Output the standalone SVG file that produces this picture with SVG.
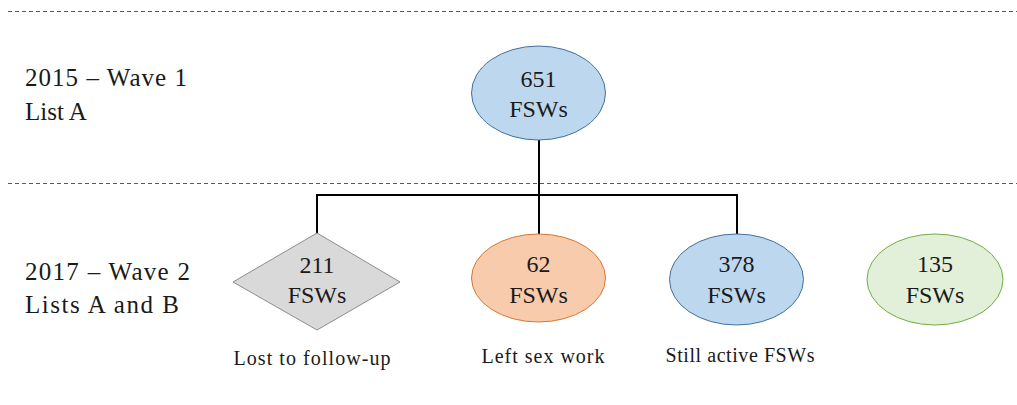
<svg xmlns="http://www.w3.org/2000/svg" width="1017" height="405" viewBox="0 0 1017 405">
  <style>
    .divider { stroke: #595959; stroke-width: 1; stroke-dasharray: 4 3; fill: none; }
    .link { stroke: #000; stroke-width: 2; fill: none; }
    .blue { fill: #BDD7EE; stroke: #41719C; stroke-width: 1; }
    .orange { fill: #F8CBAD; stroke: #D9772E; stroke-width: 1; }
    .green { fill: #E2F0D9; stroke: #70AD47; stroke-width: 1; }
    .grey { fill: #D9D9D9; stroke: #8C8C8C; stroke-width: 1; }
  </style>

  <!-- wave separators -->
  <line class="divider" x1="8" y1="11.5" x2="1017" y2="11.5"/>
  <line class="divider" x1="8" y1="183.5" x2="1017" y2="183.5"/>

  <!-- row headings -->
  <g id="wave1-label" style="font-family: 'Liberation Serif', serif; font-size: 25px" fill="#1a1a1a">
    <text x="25" y="86" textLength="162" lengthAdjust="spacing">2015 – Wave 1</text>
    <text x="25" y="120">List A</text>
  </g>
  <g id="wave2-label" style="font-family: 'Liberation Serif', serif; font-size: 25px" fill="#1a1a1a">
    <text x="25" y="280" textLength="165" lengthAdjust="spacing">2017 – Wave 2</text>
    <text x="25" y="313" textLength="154" lengthAdjust="spacing">Lists A and B</text>
  </g>

  <!-- connectors -->
  <g id="connectors">
    <polyline class="link" points="539,140 539,195"/>
    <polyline class="link" points="317,234 317,195 737,195 737,234"/>
    <line class="link" x1="539" y1="195" x2="539" y2="234"/>
  </g>

  <g id="node-651" style="font-family: 'Liberation Serif', serif; font-size: 24px" fill="#1a1a1a" text-anchor="middle">
    <ellipse class="blue" cx="538.5" cy="93" rx="67" ry="47"/>
    <text x="538.5" y="87">651</text>
    <text x="538.5" y="117">FSWs</text>
  </g>

  <g id="node-211" style="font-family: 'Liberation Serif', serif; font-size: 24px" fill="#1a1a1a" text-anchor="middle">
    <polygon class="grey" points="317,233 400,282 317,330 233,282"/>
    <text x="317" y="273">211</text>
    <text x="317" y="303">FSWs</text>
    <text x="312" y="365" font-size="20" textLength="157" lengthAdjust="spacing">Lost to follow-up</text>
  </g>

  <g id="node-62" style="font-family: 'Liberation Serif', serif; font-size: 24px" fill="#1a1a1a" text-anchor="middle">
    <ellipse class="orange" cx="538.5" cy="278" rx="67" ry="44"/>
    <text x="538.5" y="272">62</text>
    <text x="538.5" y="303">FSWs</text>
    <text x="543" y="363" font-size="20" textLength="123" lengthAdjust="spacing">Left sex work</text>
  </g>

  <g id="node-378" style="font-family: 'Liberation Serif', serif; font-size: 24px" fill="#1a1a1a" text-anchor="middle">
    <ellipse class="blue" cx="736.5" cy="279.5" rx="67" ry="45.5"/>
    <text x="736.5" y="272">378</text>
    <text x="736.5" y="303">FSWs</text>
    <text x="740" y="362" font-size="20" textLength="149" lengthAdjust="spacing">Still active FSWs</text>
  </g>

  <g id="node-135" style="font-family: 'Liberation Serif', serif; font-size: 24px" fill="#1a1a1a" text-anchor="middle">
    <ellipse class="green" cx="935" cy="279.5" rx="68" ry="45.5"/>
    <text x="935" y="272">135</text>
    <text x="935" y="303">FSWs</text>
  </g>
</svg>
